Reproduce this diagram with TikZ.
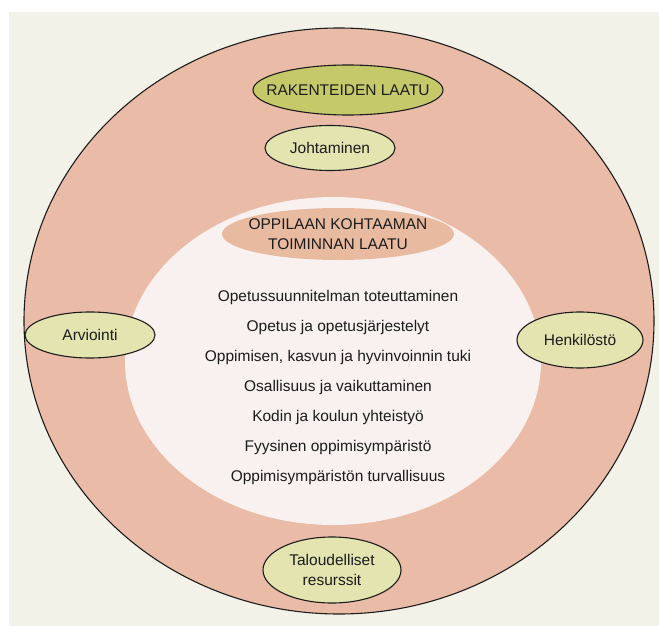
\documentclass[tikz,border=0pt]{standalone}
\usepackage{fontspec}
\setmainfont{Liberation Sans}
\usetikzlibrary{shapes.geometric}
\definecolor{paper}{HTML}{F3F2E9}
\definecolor{salmon}{HTML}{EABCA7}
\definecolor{innerwhite}{HTML}{F8F1F0}
\definecolor{titlesalmon}{HTML}{E8BA9F}
\definecolor{olive}{HTML}{C6C96A}
\definecolor{lightgreen}{HTML}{E3E4AF}
\definecolor{ink}{HTML}{1C1C1C}
\begin{document}
\begin{tikzpicture}[x=1pt,y=-1pt,
  txt/.style={font=\fontsize{15.5}{20}\selectfont, text=ink, align=center},
  ovalshape/.style={ellipse, inner sep=0pt},
  oval/.style={ovalshape, draw=ink, line width=1.1pt},
  item/.style={txt, anchor=center}]
\useasboundingbox (0,0) rectangle (659,626);
\fill[white] (0,0) rectangle (659,626);
\fill[paper] (9,12) rectangle (659,626);
% outer ring
\node[oval, fill=salmon, minimum width=630pt, minimum height=586pt] (outer) at (339,321) {};
% inner region
\node[ovalshape, fill=innerwhite, minimum width=416pt, minimum height=328pt] (inner) at (333,361) {};
% title
\node[ovalshape, fill=titlesalmon, minimum width=232pt, minimum height=52pt] (titlebg) at (338,234) {};
\node[txt] (title) at (titlebg) {OPPILAAN KOHTAAMAN\\TOIMINNAN LAATU};
% outer ovals
\node[oval, fill=olive, minimum width=190pt, minimum height=50pt] (rakbg) at (348,90) {};
\node[txt] (rak) at (rakbg) {RAKENTEIDEN LAATU};
\node[oval, fill=lightgreen, minimum width=130pt, minimum height=45pt] (johbg) at (330,148) {};
\node[txt] (joh) at (johbg) {Johtaminen};
\node[oval, fill=lightgreen, minimum width=130pt, minimum height=46pt] (arvbg) at (90,335) {};
\node[txt] (arv) at (arvbg) {Arviointi};
\node[oval, fill=lightgreen, minimum width=126pt, minimum height=56pt] (henbg) at (580,340) {};
\node[txt] (hen) at (henbg) {Henkilöstö};
\node[oval, fill=lightgreen, minimum width=138pt, minimum height=66pt] (talbg) at (332,570) {};
\node[txt] (tal) at (talbg) {Taloudelliset\\resurssit};
% list
\node[item] (l1) at (338,297) {Opetussuunnitelman toteuttaminen};
\node[item] (l2) at (338,327) {Opetus ja opetusjärjestelyt};
\node[item] (l3) at (338,357) {Oppimisen, kasvun ja hyvinvoinnin tuki};
\node[item] (l4) at (338,387) {Osallisuus ja vaikuttaminen};
\node[item] (l5) at (338,417) {Kodin ja koulun yhteistyö};
\node[item] (l6) at (338,447) {Fyysinen oppimisympäristö};
\node[item] (l7) at (338,477) {Oppimisympäristön turvallisuus};
\end{tikzpicture}
\end{document}
